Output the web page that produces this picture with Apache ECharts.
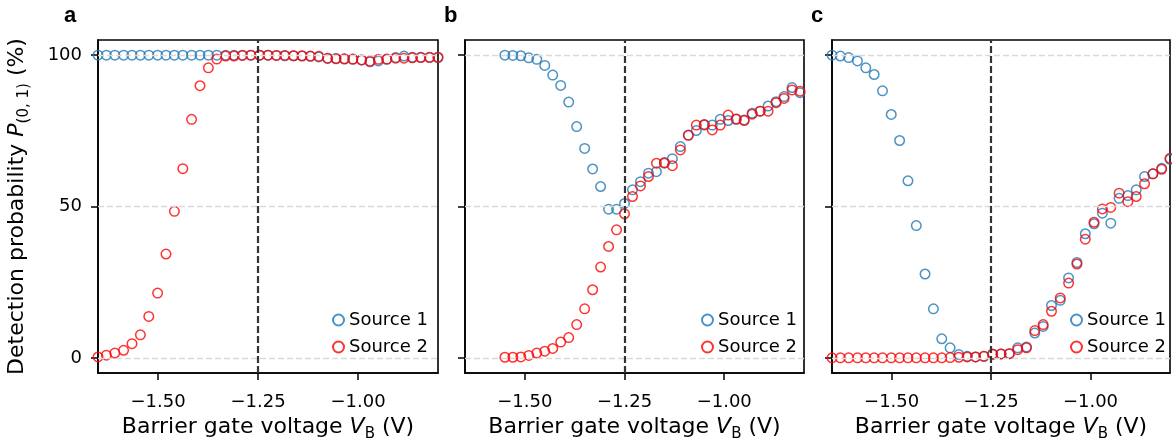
<!DOCTYPE html>
<html>
<head>
<meta charset="utf-8">
<script src="https://cdn.jsdelivr.net/npm/echarts@6/dist/echarts.min.js"></script>
<style>
html, body { margin: 0; padding: 0; background: #fff; }
#chart { width: 1172px; height: 442px; }
</style>
</head>
<body>
<div id="chart"></div>
<script>
// gate voltage sweeps (V)
var vLong = [-1.65, -1.629, -1.608, -1.586, -1.565, -1.544, -1.523, -1.501, -1.48, -1.459,
             -1.438, -1.416, -1.395, -1.374, -1.353, -1.331, -1.31, -1.289, -1.268, -1.246,
             -1.225, -1.204, -1.183, -1.161, -1.14, -1.119, -1.098, -1.076, -1.055, -1.034,
             -1.013, -0.991, -0.97, -0.949, -0.928, -0.906, -0.885, -0.864, -0.843, -0.821, -0.8];
var vShort = [-1.55, -1.53, -1.51, -1.49, -1.47, -1.45, -1.43, -1.41, -1.39, -1.37,
              -1.35, -1.33, -1.31, -1.29, -1.27, -1.25, -1.23, -1.21, -1.19, -1.17,
              -1.15, -1.13, -1.11, -1.09, -1.07, -1.05, -1.03, -1.01, -0.99, -0.97,
              -0.95, -0.93, -0.91, -0.89, -0.87, -0.85, -0.83, -0.81];

// panel a
var aSrc1 = [100, 100, 100, 100, 100, 100, 100, 100, 100, 100,
             100, 100, 100, 100, 100, 100, 100, 100, 100, 100,
             100, 99.9, 99.8, 99.8, 99.7, 99.6, 99.4, 98.9, 98.9, 98.7,
             98.6, 98.4, 97.8, 98.1, 98.6, 99.2, 99.7, 99.3, 99.3, 99.2, 99.2];
var aSrc2 = [0.3, 0.9, 1.6, 2.5, 4.7, 7.6, 13.7, 21.4, 34.3, 48.4,
             62.5, 78.8, 89.9, 95.8, 98.7, 99.7, 99.7, 99.9, 100, 100,
             100, 99.9, 99.9, 99.8, 99.8, 99.7, 99.6, 99.0, 98.8, 98.8,
             98.7, 98.4, 98.0, 98.6, 98.7, 99.0, 99.0, 99.1, 99.2, 99.3, 99.3];
// panel b
var bSrc1 = [100, 99.9, 99.8, 99.1, 98.6, 96.6, 93.4, 90.0, 84.5, 76.4,
             69.2, 62.4, 56.6, 49.1, 49.1, 51.0, 55.5, 58.2, 61.0, 61.5,
             64.3, 65.8, 69.8, 73.6, 75.1, 76.9, 76.9, 78.8, 78.4, 78.8,
             78.6, 80.8, 81.5, 83.2, 84.6, 86.3, 89.3, 87.6];
var bSrc2 = [0.2, 0.2, 0.3, 0.8, 1.6, 2.2, 3.1, 5.2, 6.7, 11.0,
             16.2, 22.5, 30.0, 36.8, 42.3, 47.6, 53.3, 56.8, 59.9, 64.3,
             64.5, 63.5, 68.7, 73.5, 76.9, 77.1, 75.3, 76.9, 80.2, 78.9,
             78.4, 80.5, 81.5, 81.5, 84.3, 85.7, 88.5, 88.1];
// panel c
var cSrc1 = [100, 99.7, 99.2, 98.1, 95.8, 93.6, 88.2, 80.4, 71.8, 58.5,
             43.7, 27.7, 16.2, 6.3, 3.3, 1.1, 0.5, 0.3, 0.5, 1.1,
             1.3, 1.4, 3.3, 3.6, 8.2, 10.4, 17.3, 19.0, 26.4, 31.5,
             41.0, 44.3, 47.8, 44.5, 52.7, 53.6, 55.5, 59.9, 60.8, 62.6, 65.6];
var cSrc2 = [0, 0, 0, 0, 0, 0, 0, 0, 0, 0,
             0, 0, 0, 0, 0.1, 0.2, 0.3, 0.3, 0.5, 1.3,
             1.3, 1.4, 2.7, 3.3, 9.0, 11.0, 15.4, 19.8, 24.7, 31.0,
             39.2, 44.8, 49.2, 49.7, 54.4, 51.6, 53.3, 57.5, 60.8, 62.3, 65.9];

var xTicks = [-1.5, -1.25, -1.0];
var yTicks = [0, 50, 100];
var gateLine = -1.25;

var FONT = 'DejaVu Sans';
var BLUE = '#1f77b4';
var RED = '#ff0000';

function pairs(xs, ys) {
    return xs.map(function (x, i) { return [x, ys[i]]; });
}

var nameRich = {
    t: { fontSize: 22, fontFamily: FONT, color: '#000', lineHeight: 30 },
    i: { fontSize: 22, fontFamily: FONT, color: '#000', fontStyle: 'italic', lineHeight: 30 },
    s: { fontSize: 15, fontFamily: FONT, color: '#000', lineHeight: 15, verticalAlign: 'bottom' }
};

var grids = [
    { left: 98, top: 40, width: 340, height: 333 },
    { left: 465, top: 40, width: 339, height: 333 },
    { left: 832, top: 40, width: 338, height: 333 }
];
grids.forEach(function (g) {
    g.show = true;
    g.borderColor = '#000';
    g.borderWidth = 1.6;
    g.backgroundColor = 'transparent';
    g.containLabel = false;
    g.outerBoundsMode = 'none';
});

var xAxes = [], yAxes = [], series = [], legends = [];
var panels = [
    { x: vLong, s1: aSrc1, s2: aSrc2, legendLeft: 332 },
    { x: vShort, s1: bSrc1, s2: bSrc2, legendLeft: 701 },
    { x: vLong, s1: cSrc1, s2: cSrc2, legendLeft: 1070 }
];

panels.forEach(function (p, i) {
    xAxes.push({
        type: 'value',
        gridIndex: i,
        min: -1.65,
        max: -0.8,
        axisLine: { show: true, onZero: false, lineStyle: { color: '#000', width: 1.6 } },
        axisTick: { show: true, customValues: xTicks, length: 7, lineStyle: { color: '#000', width: 1.5 } },
        axisLabel: {
            customValues: xTicks,
            margin: 20,
            fontFamily: FONT,
            fontSize: 18,
            color: '#000',
            formatter: function (v) { return v.toFixed(2).replace('-', '\u2212'); }
        },
        splitLine: { show: false },
        name: '{t|Barrier gate voltage }{i|V}{s|B}{t| (V)}',
        nameLocation: 'middle',
        nameGap: 38,
        nameTextStyle: { color: '#000', fontFamily: FONT, rich: nameRich }
    });
    yAxes.push({
        type: 'value',
        gridIndex: i,
        min: -5,
        max: 105,
        axisLine: { show: true, onZero: false, lineStyle: { color: '#000', width: 1.6 } },
        axisTick: { show: true, customValues: yTicks, length: 7, lineStyle: { color: '#000', width: 1.5 } },
        axisLabel: {
            show: i === 0,
            customValues: yTicks,
            margin: 16,
            fontFamily: FONT,
            fontSize: 18,
            color: '#000'
        },
        splitLine: { show: false },
        name: i === 0 ? '{t|Detection probability }{i|P}{s|(0, 1)}{t| (%)}' : '',
        nameLocation: 'middle',
        nameRotate: 90,
        nameGap: 66,
        nameTextStyle: { color: '#000', fontFamily: FONT, rich: nameRich }
    });
    series.push({
        name: 'Source 1',
        type: 'scatter',
        xAxisIndex: i,
        yAxisIndex: i,
        data: pairs(p.x, p.s1),
        symbol: 'circle',
        symbolSize: 9.5,
        itemStyle: { color: 'rgba(255,255,255,0)', borderColor: BLUE, borderWidth: 1.5 },
        emphasis: { disabled: true },
        markLine: {
            silent: true,
            symbol: ['none', 'none'],
            label: { show: false },
            animation: false,
            data: yTicks.map(function (v) {
                return { yAxis: v, lineStyle: { color: '#dadada', type: [6, 3], width: 1.4 } };
            }).concat([{ xAxis: gateLine, lineStyle: { color: '#333', type: [7, 3], width: 2.2 } }])
        }
    });
    series.push({
        name: 'Source 2',
        type: 'scatter',
        xAxisIndex: i,
        yAxisIndex: i,
        data: pairs(p.x, p.s2),
        symbol: 'circle',
        symbolSize: 9.5,
        itemStyle: { color: 'rgba(255,255,255,0)', borderColor: RED, borderWidth: 1.5 },
        emphasis: { disabled: true }
    });
    legends.push({
        orient: 'vertical',
        left: p.legendLeft,
        top: 311,
        itemGap: 9,
        itemWidth: 11,
        itemHeight: 11,
        padding: 0,
        data: [{ name: 'Source 1', icon: 'circle' }, { name: 'Source 2', icon: 'circle' }],
        textStyle: { fontFamily: FONT, fontSize: 18, color: '#000' },
        selectedMode: false
    });
});

var chart = echarts.init(document.getElementById('chart'));
chart.setOption({
    animation: false,
    backgroundColor: '#fff',
    grid: grids,
    xAxis: xAxes,
    yAxis: yAxes,
    legend: legends,
    series: series,
    graphic: [
        { type: 'text', left: 64, top: 5, style: { text: 'a', font: 'bold 22px "Liberation Sans"', fill: '#000' } },
        { type: 'text', left: 444, top: 5, style: { text: 'b', font: 'bold 22px "Liberation Sans"', fill: '#000' } },
        { type: 'text', left: 811, top: 5, style: { text: 'c', font: 'bold 22px "Liberation Sans"', fill: '#000' } }
    ]
});
</script>
</body>
</html>
